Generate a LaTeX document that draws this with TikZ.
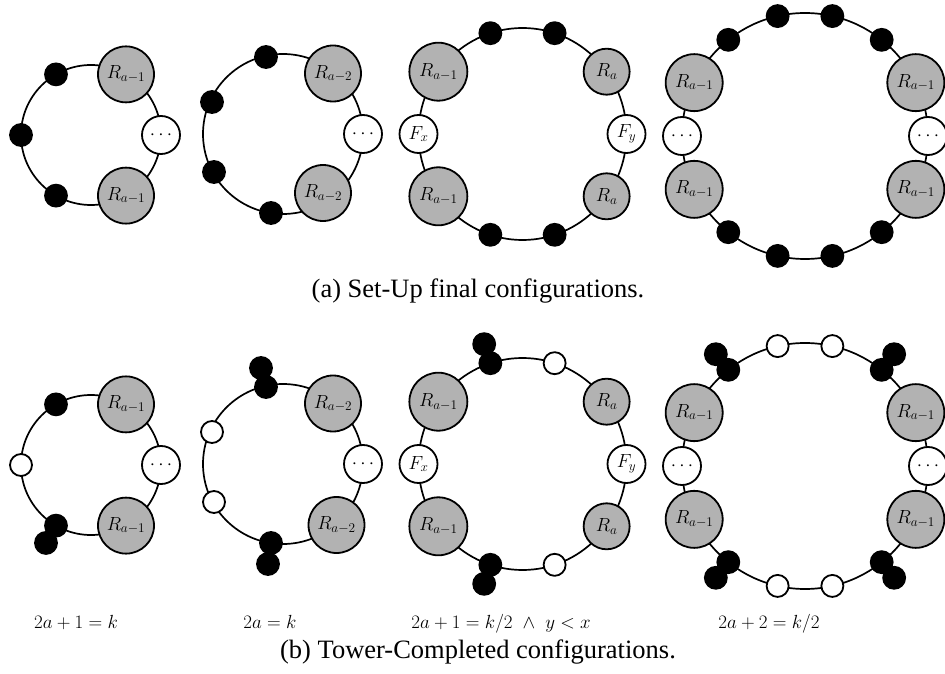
\documentclass[tikz,border=0pt]{standalone}
\usepackage{fix-cm}
\usepackage{fontspec}
\newfontfamily\capfont{Liberation Serif}
\usetikzlibrary{positioning}

\tikzset{
  robot/.style={circle, draw, line width=1.8pt, fill=black, minimum size=22pt, inner sep=0pt},
  vacant/.style={robot, fill=white},
  track/.style={line width=1.7pt},
  rblock/.style={circle, draw, line width=1.8pt, fill=black!30, minimum size=56pt, inner sep=0pt, font=\fontsize{19}{22}\selectfont},
  fblock/.style={rblock, fill=white, minimum size=38pt},
  cond/.style={anchor=base, font=\fontsize{19}{22}\selectfont},
  subcap/.style={anchor=base, font=\capfont\fontsize{26.5}{30}\selectfont}
}

\begin{document}
\begin{tikzpicture}[x=1pt, y=1pt]
  \clip (0,0) rectangle (945,673);

  % (a) first ring
  \begin{scope}[shift={(91,538)}]
    \draw[track] (0,0) circle (70);
    \node[fblock] (a1d) at (0:70) {$\cdots$};
    \node[rblock] (a1r1) at (60:70) {$R_{a-1}$};
    \node[rblock] (a1r2) at (300:70) {$R_{a-1}$};
    \foreach \t/\n in {120/1, 180/2, 240/3}
      \node[robot] (a1b\n) at (\t:70) {};
  \end{scope}

  % (a) second ring
  \begin{scope}[shift={(283,539)}]
    \draw[track] (0,0) circle (80);
    \node[fblock] (a2d) at (80,0) {$\cdots$};
    \node[rblock] (a2r1) at (50,60.5) {$R_{a-2}$};
    \node[rblock] (a2r2) at (40,-59) {$R_{a-2}$};
    \node[robot] (a2b1) at (-17,77) {};
    \node[robot] (a2b2) at (-71,32) {};
    \node[robot] (a2b3) at (-69,-38) {};
    \node[robot] (a2b4) at (-12,-79) {};
  \end{scope}

  % (a) third ring
  \begin{scope}[shift={(522.5,539)}]
    \draw[track] (0,0) ellipse (104 and 106);
    \node[fblock] (a3fy) at (0:104 and 106) {$F_y$};
    \node[fblock] (a3fx) at (180:104 and 106) {$F_x$};
    \node[rblock, minimum size=58pt] (a3r1) at (144:104 and 106) {$R_{a-1}$};
    \node[rblock, minimum size=58pt] (a3r2) at (216:104 and 106) {$R_{a-1}$};
    \node[rblock, minimum size=46pt] (a3r3) at (36:104 and 106) {$R_a$};
    \node[rblock, minimum size=46pt] (a3r4) at (324:104 and 106) {$R_a$};
    \foreach \t/\n in {72/1, 108/2, 252/3, 288/4}
      \node[robot] (a3b\n) at (\t:104 and 106) {};
  \end{scope}

  % (a) fourth ring
  \begin{scope}[shift={(805,537)}]
    \draw[track] (0,0) circle (123);
    \node[fblock] (a4d1) at (0:123) {$\cdots$};
    \node[fblock] (a4d2) at (180:123) {$\cdots$};
    \foreach \k in {1,6,8,13}
      \node[rblock, minimum size=57pt] (a4r\k) at ({\k*360/14}:123) {$R_{a-1}$};
    \foreach \k in {2,3,4,5,9,10,11,12}
      \node[robot] (a4b\k) at ({\k*360/14}:123) {};
  \end{scope}

  % (b) first ring
  \begin{scope}[shift={(91,208)}]
    \draw[track] (0,0) circle (70);
    \node[fblock] (b1d) at (0:70) {$\cdots$};
    \node[rblock] (b1r1) at (60:70) {$R_{a-1}$};
    \node[rblock] (b1r2) at (300:70) {$R_{a-1}$};
    \node[robot] (b1b1) at (120:70) {};
    \node[vacant] (b1w1) at (180:70) {};
    \node[robot] (b1b2) at (240:70) {};
    \node[robot] (b1t2) at (240:90) {};
  \end{scope}

  % (b) second ring
  \begin{scope}[shift={(283,209)}]
    \draw[track] (0,0) circle (80);
    \node[fblock] (b2d) at (80,0) {$\cdots$};
    \node[rblock] (b2r1) at (50,60.5) {$R_{a-2}$};
    \node[rblock] (b2r2) at (53.5,-61) {$R_{a-2}$};
    \node[robot] (b2b1) at (-17,77) {};
    \node[robot] (b2t1) at (-22,96) {};
    \node[vacant] (b2w1) at (-71,32) {};
    \node[vacant] (b2w2) at (-69,-38) {};
    \node[robot] (b2b2) at (-12,-79) {};
    \node[robot] (b2t2) at (-15,-100) {};
  \end{scope}

  % (b) third ring
  \begin{scope}[shift={(522.5,209)}]
    \draw[track] (0,0) ellipse (104 and 106);
    \node[fblock] (b3fy) at (0:104 and 106) {$F_y$};
    \node[fblock] (b3fx) at (180:104 and 106) {$F_x$};
    \node[rblock, minimum size=58pt] (b3r1) at (144:104 and 106) {$R_{a-1}$};
    \node[rblock, minimum size=58pt] (b3r2) at (216:104 and 106) {$R_{a-1}$};
    \node[rblock, minimum size=46pt] (b3r3) at (36:104 and 106) {$R_a$};
    \node[rblock, minimum size=46pt] (b3r4) at (324:104 and 106) {$R_a$};
    \node[vacant] (b3w1) at (72:104 and 106) {};
    \node[vacant] (b3w2) at (288:104 and 106) {};
    \foreach \t/\n in {108/1, 252/2} {
      \node[robot] (b3b\n) at (\t:104 and 106) {};
      \node[robot] (b3t\n) at (\t:124 and 126) {};
    }
  \end{scope}

  % (b) fourth ring
  \begin{scope}[shift={(805,207)}]
    \draw[track] (0,0) circle (123);
    \node[fblock] (b4d1) at (0:123) {$\cdots$};
    \node[fblock] (b4d2) at (180:123) {$\cdots$};
    \foreach \k in {1,6,8,13}
      \node[rblock, minimum size=57pt] (b4r\k) at ({\k*360/14}:123) {$R_{a-1}$};
    \foreach \k in {3,4,10,11}
      \node[vacant] (b4w\k) at ({\k*360/14}:123) {};
    \foreach \k in {2,5,9,12} {
      \node[robot] (b4b\k) at ({\k*360/14}:123) {};
      \node[robot] (b4t\k) at ({\k*360/14}:143) {};
    }
  \end{scope}

  % conditions and captions
  \node[cond] (c1) at (76,45) {$2a+1=k$};
  \node[cond] (c2) at (270,45) {$2a=k$};
  \node[cond] (c3) at (501,45) {$2a+1=k/2\ \wedge\ y<x$};
  \node[cond] (c4) at (769,45) {$2a+2=k/2$};
  \node[subcap] (capa) at (478,375) {(a) Set-Up final configurations.};
  \node[subcap] (capb) at (478,15) {(b) Tower-Completed configurations.};
\end{tikzpicture}
\end{document}
